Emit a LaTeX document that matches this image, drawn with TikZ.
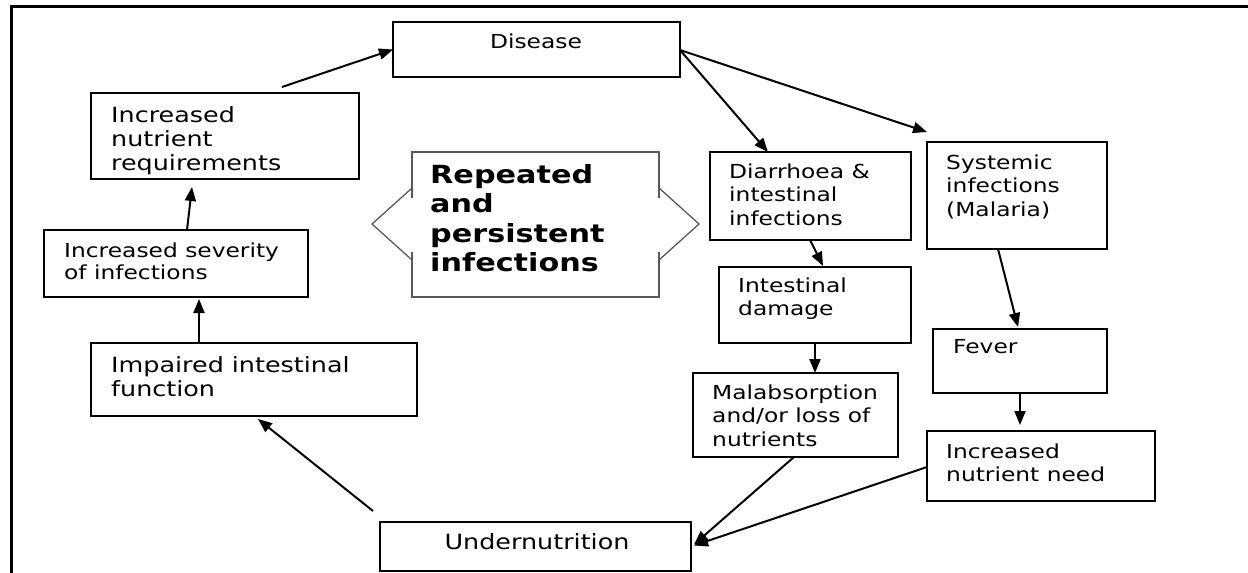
\documentclass[tikz,border=0pt]{standalone}
\usepackage{fontspec}
\setmainfont{DejaVu Sans}[FakeStretch=1.21]
\usetikzlibrary{arrows.meta,calc}
\tikzset{
 box/.style={draw=black, line width=2pt, anchor=north west, inner sep=0pt, outer sep=0pt},
 txt/.style={anchor=north west, inner sep=0pt, align=left, font=\fontsize{19.3}{23.5}\selectfont},
 txtL/.style={txt, font=\fontsize{21}{24}\selectfont},
 txtB/.style={txt, font=\bfseries\fontsize{25}{29.3}\selectfont},
 arr/.style={line width=2pt, -{Triangle[length=14pt,width=11pt]}},
 frame/.style={line width=2.5pt},
 callout/.style={draw=black!65, line width=1.3pt},
}
\begin{document}
\begin{tikzpicture}[x=1pt,y=-1pt]
\useasboundingbox (0,0) rectangle (1248,573);
% outer frame (top and left only)
\draw[frame] (1248,6.5) -- (11.5,6.5) -- (11.5,573);

% boxes
\node[box, minimum width=287pt, minimum height=55pt] (dis) at (393,22) {};
\node[box, minimum width=268pt, minimum height=86pt] (inr) at (91,93) {};
\node[box, minimum width=264pt, minimum height=67pt] (sev) at (44,230) {};
\node[box, minimum width=326pt, minimum height=73pt] (imp) at (91,343) {};
\node[box, minimum width=311pt, minimum height=49pt] (und) at (380,522) {};
\node[box, minimum width=201pt, minimum height=88pt] (dia) at (710,152) {};
\node[box, minimum width=180pt, minimum height=107pt] (sys) at (927,142) {};
\node[box, minimum width=192pt, minimum height=76pt] (dam) at (719,267) {};
\node[box, minimum width=205pt, minimum height=84pt] (mal) at (693,373) {};
\node[box, minimum width=174pt, minimum height=64pt] (fev) at (933,329) {};
\node[box, minimum width=228pt, minimum height=70pt] (inn) at (927,431) {};

% callout shape
\draw[callout] (412,198) -- (412,152) -- (659,152) -- (659,198);
\draw[callout] (659,188) -- (699,224) -- (659,260);
\draw[callout] (659,252) -- (659,297) -- (412,297) -- (412,252);
\draw[callout] (412,260) -- (372,224) -- (412,188);

% texts
\node[txt, anchor=center] (dis-t) at (536,41) {Disease};
\node[txtL] (inr-t) at (111,106.5) {Increased\\nutrient\\requirements};
\node[txt, font=\fontsize{19.3}{22}\selectfont] (sev-t) at (64,242.5) {Increased severity\\of infections};
\node[txtL] (imp-t) at (111,356) {Impaired intestinal\\function};
\node[txtL, anchor=center] (und-t) at (537,541.5) {Undernutrition};
\node[txt] (dia-t) at (729,163.5) {Diarrhoea \&\\intestinal\\infections};
\node[txt] (sys-t) at (946,154.5) {Systemic\\infections\\(Malaria)};
\node[txt] (dam-t) at (738,277.5) {Intestinal\\damage};
\node[txt] (mal-t) at (712,384.5) {Malabsorption\\and/or loss of\\nutrients};
\node[txt] (fev-t) at (953,339.5) {Fever};
\node[txt] (inn-t) at (946,443.5) {Increased\\nutrient need};
\node[txtB] (rep) at (430,164.5) {Repeated\\and\\persistent\\infections};

% connectors
\draw[arr] ([shift={(57,-6)}]inr.north) -- (dis.west);
\draw[arr] ([shift={(11,0)}]sev.north) -- ([shift={(-33,8)}]inr.south);
\draw[arr] ([shift={(-55,0)}]imp.north) -- ([shift={(23,2)}]sev.south);
\draw[arr] ([shift={(-162.5,-11)}]und.north) -- ([shift={(4,3)}]imp.south);
\draw[arr] ([shift={(0,0.5)}]dis.east) -- ([shift={(-42.5,0)}]dia.north);
\draw[arr] ([shift={(0,0.5)}]dis.east) -- ([shift={(0,-10)}]sys.north west);
\draw[arr] ([shift={(-0.5,0)}]dia.south) -- ([shift={(8,-1)}]dam.north);
\draw[arr] (dam.south) -- (dam.south |- mal.north);
\draw[arr] ([shift={(-19,0)}]sys.south) -- ([shift={(-2,-2)}]fev.north);
\draw[arr] (fev.south) -- ($(fev.south |- inn.north)+(0,-6)$);
\draw[arr] ([shift={(-1.5,0)}]mal.south) -- ([shift={(3,-2)}]und.east);
\draw[arr] ([shift={(0,1)}]inn.west) -- ([shift={(3,-1)}]und.east);
\end{tikzpicture}
\end{document}
